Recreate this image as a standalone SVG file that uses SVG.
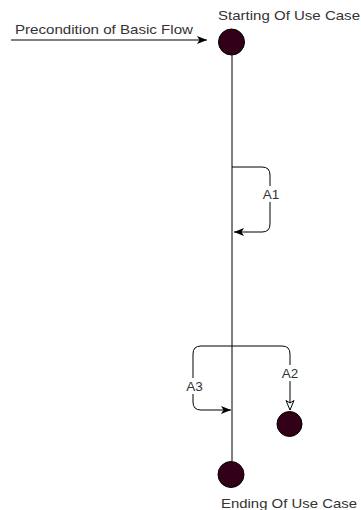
<svg xmlns="http://www.w3.org/2000/svg" width="361" height="510" viewBox="0 0 361 510">
  <style>
    .lbl { font-family: "Liberation Sans", Arial, sans-serif; font-size: 13.5px; fill: #333333; }
    .edge { fill: none; stroke: #000000; stroke-width: 1; }
    .node { fill: #33001a; stroke: #000000; stroke-width: 1; }
    .tag { fill: #ffffff; stroke: none; }
  </style>
  <defs>
    <marker id="arrow" markerUnits="userSpaceOnUse" markerWidth="12" markerHeight="10" refX="10" refY="4" orient="auto">
      <path d="M0,0 L10,4 L0,8 L2.5,4 Z" fill="#000000"/>
    </marker>
    <marker id="arrowOpen" markerUnits="userSpaceOnUse" markerWidth="12" markerHeight="12" refX="10" refY="4.5" orient="auto">
      <path d="M0.5,0.5 L10,4.5 L0.5,8.5 L3,4.5 Z" fill="#ffffff" stroke="#000000" stroke-width="1"/>
    </marker>
  </defs>

  <!-- connectors -->
  <g id="connectors">
    <line class="edge" x1="232" y1="55" x2="232" y2="461"/>
    <line class="edge" x1="11" y1="40" x2="207" y2="40" marker-end="url(#arrow)"/>
    <path class="edge" d="M232,167 H262 Q270,167 270,175 V224 Q270,232 262,232 H234" marker-end="url(#arrow)"/>
    <path class="edge" d="M232,346 H201 Q193,346 193,354 V402 Q193,410 201,410 H231" marker-end="url(#arrow)"/>
    <path class="edge" d="M232,346 H282 Q290,346 290,354 V410" marker-end="url(#arrowOpen)"/>
    <rect class="tag" x="262" y="186" width="18" height="16"/>
    <text class="lbl" x="271" y="199" text-anchor="middle">A1</text>
    <rect class="tag" x="185" y="378" width="18" height="16"/>
    <text class="lbl" x="194.5" y="391" text-anchor="middle">A3</text>
    <rect class="tag" x="281" y="365" width="18" height="16"/>
    <text class="lbl" x="290" y="378" text-anchor="middle">A2</text>
    <text class="lbl" x="15" y="34" textLength="178" lengthAdjust="spacingAndGlyphs">Precondition of Basic Flow</text>
  </g>

  <g id="start">
    <circle class="node" cx="231.5" cy="42" r="13"/>
    <text class="lbl" x="218" y="20" textLength="142" lengthAdjust="spacingAndGlyphs">Starting Of Use Case</text>
  </g>

  <g id="alt-end">
    <circle class="node" cx="289.5" cy="424" r="12.5"/>
  </g>

  <g id="end">
    <circle class="node" cx="231" cy="474.5" r="13"/>
    <text class="lbl" x="221" y="508" textLength="136" lengthAdjust="spacingAndGlyphs">Ending Of Use Case</text>
  </g>
</svg>
